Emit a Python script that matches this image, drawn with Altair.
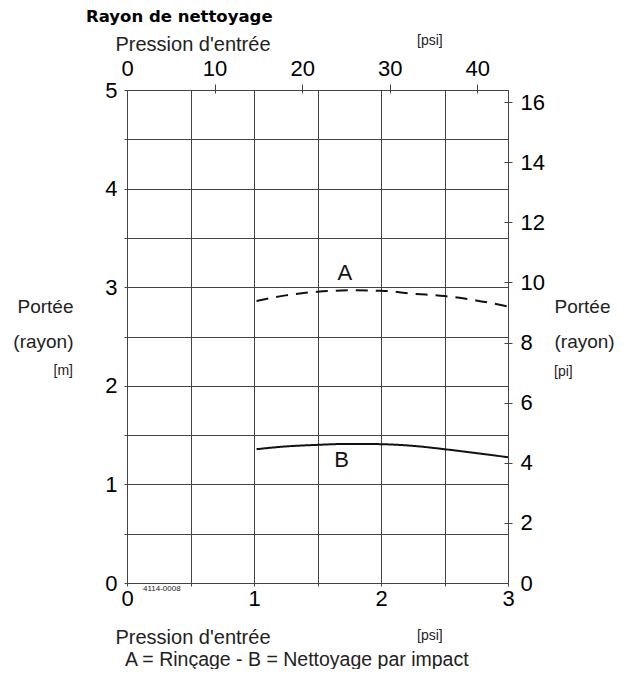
import altair as alt
import pandas as pd

# ---- data ----
bar_x = [1.02, 1.25, 1.5, 1.75, 2.0, 2.25, 2.5, 2.75, 3.0]
rinse_m = [2.86, 2.917, 2.954, 2.968, 2.964, 2.934, 2.91, 2.866, 2.805]      # A
impact_m = [1.357, 1.385, 1.401, 1.411, 1.408, 1.391, 1.357, 1.317, 1.276]   # B
series_names = ["A", "B"]
label_x = [1.715, 1.69]
label_y = [3.14, 1.245]

bar_ticks = [0, 0.5, 1, 1.5, 2, 2.5, 3]
m_ticks = [0, 0.5, 1, 1.5, 2, 2.5, 3, 3.5, 4, 4.5, 5]
psi_ticks = [0, 10, 20, 30, 40]
ft_ticks = [0, 2, 4, 6, 8, 10, 12, 14, 16]

BAR_MAX = 3
M_MAX = 5
PSI_MAX = BAR_MAX * 14.5038
FT_MAX = M_MAX / 0.3048

W, H = 381, 493
FONT = "Liberation Sans"
GRID = "#444444"

rows = []
for xv, yv in zip(bar_x, rinse_m):
    rows.append({"bar": xv, "m": yv, "serie": series_names[0]})
for xv, yv in zip(bar_x, impact_m):
    rows.append({"bar": xv, "m": yv, "serie": series_names[1]})
curves = pd.DataFrame(rows)
labels = pd.DataFrame({"bar": label_x, "m": label_y, "serie": series_names})

xs = alt.Scale(domain=[0, BAR_MAX], nice=False, zero=False)
ys = alt.Scale(domain=[0, M_MAX], nice=False, zero=False)

int_only = "datum.value % 1 == 0 ? format(datum.value, 'd') : ''"

x_axis = alt.Axis(
    orient="bottom", values=bar_ticks, labelExpr=int_only, grid=True,
    domain=False, tickSize=3, tickColor=GRID, labelPadding=2,
    labelFlush=False, labelOverlap=False,
    labelFontSize=22, labelFont=FONT, labelColor="black",
    title="Pression d'entrée", titleFont=FONT, titleFontSize=20,
    titleFontWeight="normal", titleColor="#222", titleAlign="left",
    titleBaseline="alphabetic", titleX=-12, titleY=60,
)
y_axis = alt.Axis(
    orient="left", values=m_ticks, labelExpr=int_only, grid=True,
    domain=False, tickSize=3, tickColor=GRID, labelPadding=7,
    labelFlush=False, labelOverlap=False,
    labelFontSize=22, labelFont=FONT, labelColor="black",
    title=["Portée", "(rayon)"], titleFont=FONT, titleFontSize=19,
    titleFontWeight="normal", titleColor="#222", titleAngle=0,
    titleAlign="right", titleBaseline="alphabetic", titleLineHeight=35,
    titleX=-54, titleY=222,
)

grid_layer = alt.Chart(curves).mark_point(opacity=0).encode(
    x=alt.X("bar:Q", scale=xs, axis=x_axis),
    y=alt.Y("m:Q", scale=ys, axis=y_axis),
)

lines = alt.Chart(curves).mark_line(
    interpolate="monotone", strokeWidth=2, color="#111111"
).encode(
    x=alt.X("bar:Q", scale=xs),
    y=alt.Y("m:Q", scale=ys),
    detail="serie:N",
    strokeDash=alt.condition(
        alt.datum.serie == "A", alt.value([12, 8]), alt.value([1, 0])
    ),
)

letters = alt.Chart(labels).mark_text(
    font=FONT, fontSize=22, color="#111111"
).encode(
    x=alt.X("bar:Q", scale=xs),
    y=alt.Y("m:Q", scale=ys),
    text="serie:N",
)


def note(txt, px, py, size, align="left", weight="normal", color="#222",
         font=FONT):
    return alt.Chart(pd.DataFrame({"t": [txt]})).mark_text(
        font=font, fontSize=size, align=align, baseline="alphabetic",
        fontWeight=weight, color=color,
    ).encode(x=alt.value(px), y=alt.value(py), text="t:N")


notes = [
    note("Rayon de nettoyage", -41, -68, 16.5, weight="bold", color="black",
         font="DejaVu Sans"),
    note("[psi]", 290, -45, 14),
    note("[psi]", 290, 550, 14),
    note("[m]", -54, 285, 14, align="right"),
    note("[pi]", 427, 286, 14),
    note("4114-0008", 16, 501, 8),
    note("A = Rinçage - B = Nettoyage par impact", -2, 576, 19.5),
]

main = alt.layer(grid_layer, lines, letters, *notes)

sec_df = pd.DataFrame({"psi": [0, PSI_MAX], "ft": [0, FT_MAX]})
hide_zero = {"expr": f"datum.value == 0 ? 'transparent' : '{GRID}'"}
secondary = alt.Chart(sec_df).mark_point(opacity=0).encode(
    x=alt.X(
        "psi:Q",
        scale=alt.Scale(domain=[0, PSI_MAX], nice=False, zero=False),
        axis=alt.Axis(
            orient="top", values=psi_ticks, grid=False, domain=False,
            offset=-3, tickSize=9, tickColor=hide_zero, labelPadding=4,
            labelFlush=False, labelOverlap=False,
            labelFontSize=22, labelFont=FONT, labelColor="black",
            title="Pression d'entrée", titleFont=FONT, titleFontSize=20,
            titleFontWeight="normal", titleColor="#222", titleAlign="left",
            titleBaseline="alphabetic", titleX=-12, titleY=-43,
        ),
    ),
    y=alt.Y(
        "ft:Q",
        scale=alt.Scale(domain=[0, FT_MAX], nice=False, zero=False),
        axis=alt.Axis(
            orient="right", values=ft_ticks, grid=False, domain=False,
            offset=-4, tickSize=8, tickColor=hide_zero, labelPadding=8,
            labelFlush=False, labelOverlap=False,
            labelFontSize=22, labelFont=FONT, labelColor="black",
            title=["Portée", "(rayon)"], titleFont=FONT, titleFontSize=19,
            titleFontWeight="normal", titleColor="#222", titleAngle=0,
            titleAlign="left", titleBaseline="alphabetic", titleLineHeight=35,
            titleX=50, titleY=222,
        ),
    ),
)

chart = alt.layer(main, secondary).resolve_scale(
    x="independent", y="independent"
).properties(
    width=W, height=H,
    autosize=alt.AutoSizeParams(type="none"),
    padding={"left": 119, "top": 82, "right": 112, "bottom": 86},
).configure_view(
    stroke=GRID, strokeWidth=1
).configure_axis(
    gridColor=GRID, gridOpacity=1, gridWidth=1, tickWidth=1
)

chart.save("out.html", embed_options={"renderer": "svg", "actions": False})
